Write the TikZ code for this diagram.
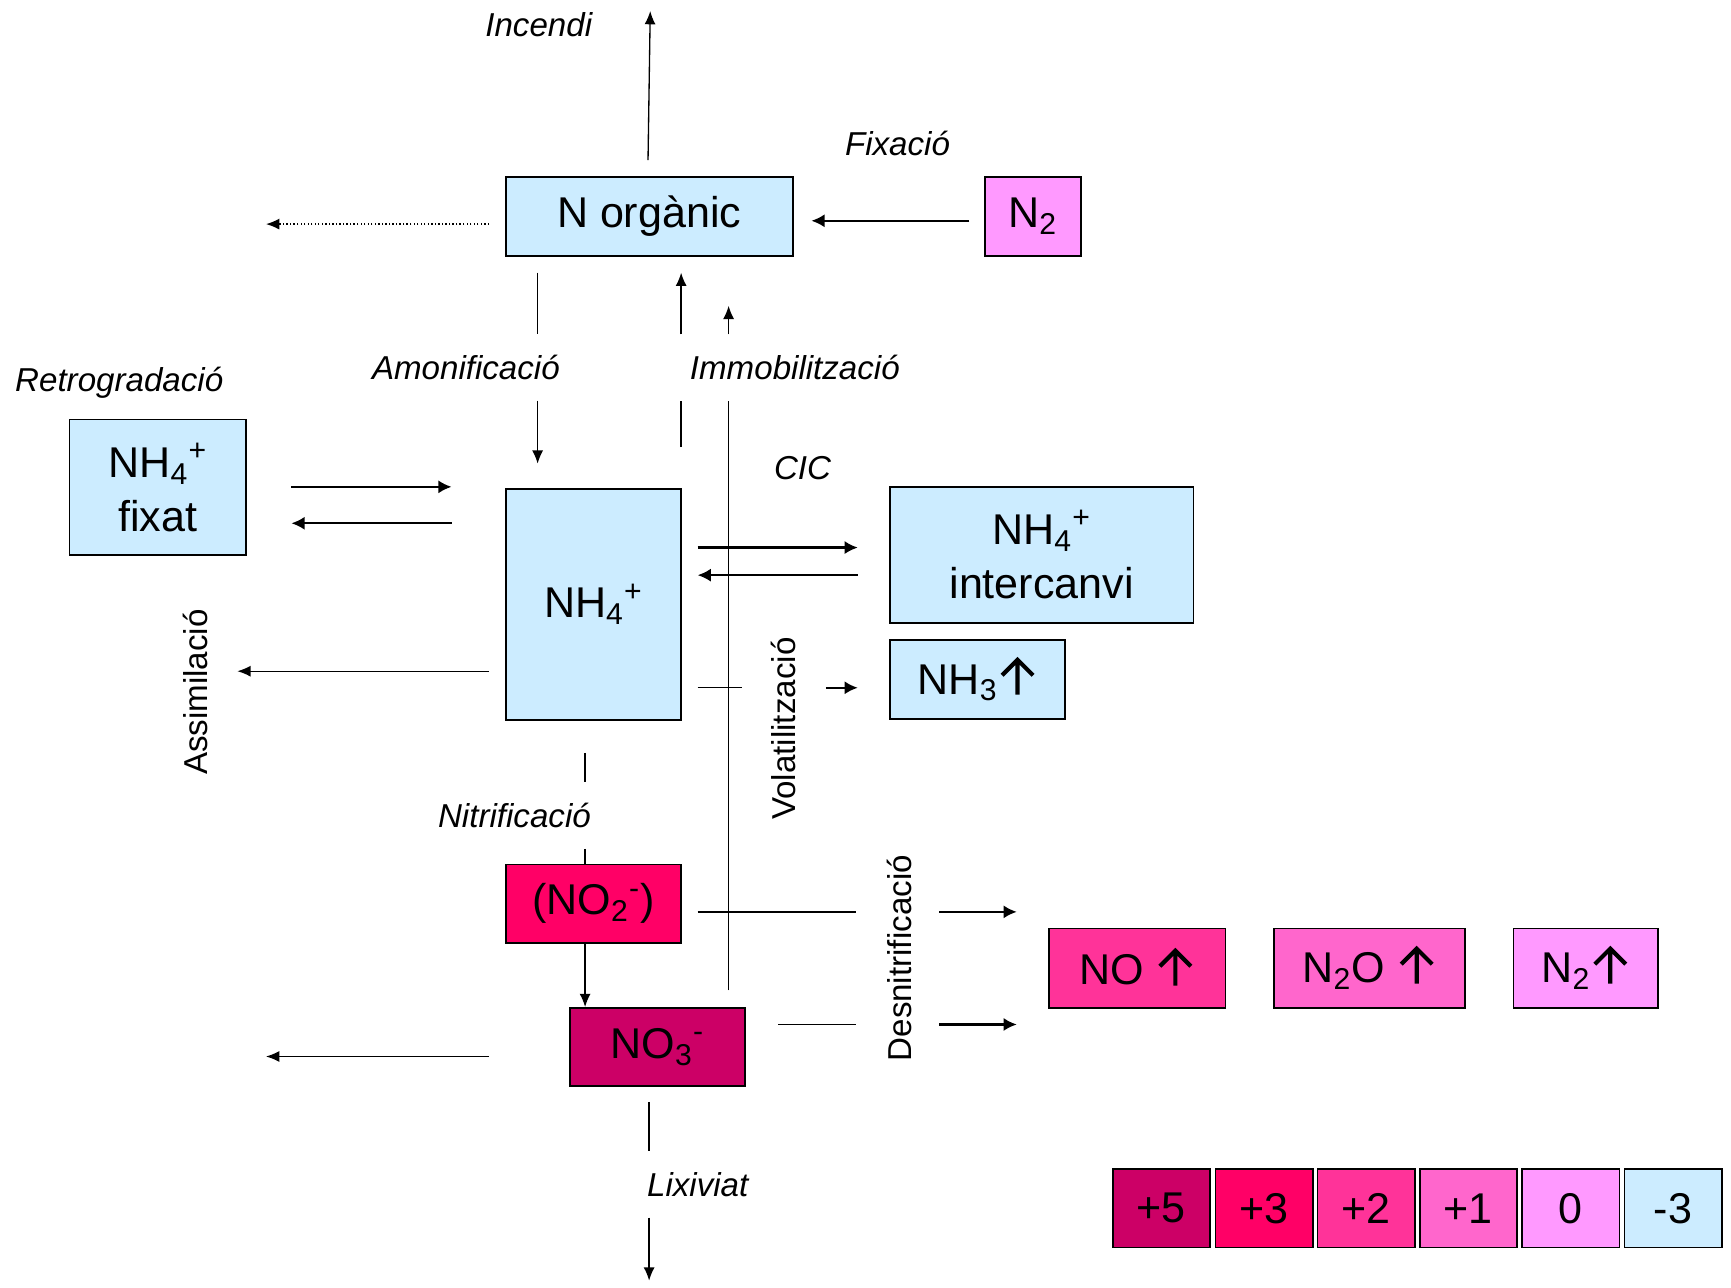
\documentclass[tikz,border=0pt]{standalone}
\usepackage{fontspec}
\setmainfont{Liberation Sans}
\usetikzlibrary{arrows.meta,calc}
\definecolor{lblue}{HTML}{CCECFF}
\definecolor{oxA}{HTML}{CC0066}
\definecolor{oxB}{HTML}{FF0066}
\definecolor{oxC}{HTML}{FF3399}
\definecolor{oxD}{HTML}{FF66CC}
\definecolor{oxE}{HTML}{FF99FF}
\newcommand{\sbsp}[2]{\textsubscript{#1}\textsuperscript{#2}}
% upward arrow marking a gas that escapes
\newcommand{\gasup}{\hspace{1pt}\tikz[baseline=0pt,x=1pt,y=1pt]
  \draw[line width=1.9pt, line join=miter] (0,-0.3)--(0,15.5) (-7,8.5)--(0,15.5)--(7,8.5);\hspace{1pt}}
\begin{document}
\begin{tikzpicture}[x=0.5pt,y=-0.5pt,
  box/.style={draw=black, line width=0.8pt, inner sep=0pt, align=center,
    font=\fontsize{19.5}{24.5}\selectfont},
  lab/.style={font=\fontsize{15}{18}\selectfont\itshape, inner sep=0pt},
  vlab/.style={font=\fontsize{15}{18}\selectfont, rotate=90, inner sep=0pt},
  ln/.style={line width=0.6pt},
  arr/.style={ln, -{Latex[length=6pt,width=5pt]}},
  harr/.style={line width=1pt, -{Latex[length=6pt,width=6pt]}}]
\useasboundingbox (0,0) rectangle (1568,1166);

% compartments
\node[box, fill=lblue, minimum width=130pt, minimum height=36pt] (norg) at (588,196) {N orgànic};
\node[box, fill=oxE, minimum width=43.5pt, minimum height=36pt] (ntop) at (935.5,196) {N\textsubscript{2}};
\node[box, fill=lblue, minimum width=80pt, minimum height=61.5pt] (fix) at (143,441.5) {NH\sbsp{4}{+}\\fixat};
\node[box, fill=lblue, minimum width=79.5pt, minimum height=104.5pt] (amm) at (537.5,547.5) {NH\sbsp{4}{+}};
\node[box, fill=lblue, minimum width=137.5pt, minimum height=61.5pt] (exch) at (943.5,502.5) {NH\sbsp{4}{+}\\intercanvi};
\node[box, fill=lblue, minimum width=79.5pt, minimum height=35.5pt] (nh3) at (885.5,615.5) {NH\textsubscript{3}\gasup};
\node[box, fill=oxB, minimum width=79.5pt, minimum height=35.5pt] (no2) at (537.5,818.5) {(NO\sbsp{2}{-})};
\node[box, fill=oxA, minimum width=79.5pt, minimum height=35.5pt] (no3) at (595.5,948.5) {NO\sbsp{3}{-}};
\node[box, fill=oxC, minimum width=80pt, minimum height=36pt] (nog) at (1030,877) {NO \gasup};
\node[box, fill=oxD, minimum width=86.5pt, minimum height=36pt] (ntwoo) at (1240.5,877) {N\textsubscript{2}O \gasup};
\node[box, fill=oxE, minimum width=65.5pt, minimum height=36pt] (ngas) at (1436.5,877) {N\textsubscript{2}\gasup};

% oxidation state legend
\foreach \cx/\col/\txt [count=\i] in {1052/oxA/+5, 1145/oxB/+3, 1237.5/oxC/+2, 1330/oxD/+1, 1423/oxE/0, 1515.5/lblue/-3}
  \node[box, fill=\col, minimum width=44pt, minimum height=35.5pt] (leg\i) at (\cx,1094.5) {\txt};

% process labels
\node[lab] (tinc) at (488,22) {Incendi};
\node[lab] (tfix) at (813,130) {Fixació};
\node[lab] (tamo) at (422,333) {Amonificació};
\node[lab] (timm) at (720,333) {Immobilització};
\node[lab] (tret) at (108,347) {Retrogradació};
\node[lab] (tcic) at (727,424) {CIC};
\node[lab] (tnit) at (466,739) {Nitrificació};
\node[lab] (tlix) at (632,1073) {Lixiviat};
\node[vlab] (tass) at (177,627) {Assimilació};
\node[vlab] (tvol) at (710,660) {Volatilització};
\node[vlab] (tden) at (815,868) {Desnitrificació};

% connector end points
\coordinate (incA) at (587,145);  \coordinate (incB) at (589,10);
\coordinate (fixA) at (878,200);  \coordinate (fixB) at (735,200);
\coordinate (outA) at (443,203);  \coordinate (outB) at (241,203);
\coordinate (amoA) at (487,247);  \coordinate (amoB) at (487,303);
\coordinate (amoC) at (487,363);  \coordinate (amoD) at (487,420);
\coordinate (imaA) at (617,405);  \coordinate (imaB) at (617,363);
\coordinate (imaC) at (617,303);  \coordinate (imaD) at (617,247);
\coordinate (imbA) at (660,897);  \coordinate (imbB) at (660,363);
\coordinate (imbC) at (660,303);  \coordinate (imbD) at (660,277);
\coordinate (retA) at (264,441);  \coordinate (retB) at (409,441);
\coordinate (retC) at (409,474);  \coordinate (retD) at (264,474);
\coordinate (cicA) at (632,496);  \coordinate (cicB) at (777,496);
\coordinate (cicC) at (777,521);  \coordinate (cicD) at (632,521);
\coordinate (volA) at (632,623);  \coordinate (volB) at (672,623);
\coordinate (volC) at (748,623);  \coordinate (volD) at (777,623);
\coordinate (assA) at (443,608);  \coordinate (assB) at (215,608);
\coordinate (nitA) at (530,682);  \coordinate (nitB) at (530,708);
\coordinate (nitC) at (530,769);
\coordinate (dnaA) at (632,826);  \coordinate (dnaB) at (775,826);
\coordinate (dnaC) at (851,826);  \coordinate (dnaD) at (921,826);
\coordinate (dnbA) at (705,928);  \coordinate (dnbB) at (775,928);
\coordinate (dnbC) at (851,928);  \coordinate (dnbD) at (921,928);
\coordinate (nooA) at (443,957);  \coordinate (nooB) at (241,957);
\coordinate (lixA) at (588,998);  \coordinate (lixB) at (588,1043);
\coordinate (lixC) at (588,1103); \coordinate (lixD) at (588,1160);

% connectors
\draw[arr] (incA) -- (incB);
\draw[harr] (fixA) -- (fixB);
\draw[ln, densely dotted, -{Latex[length=6pt,width=5pt]}] (outA) -- (outB);
\draw[ln] (amoA) -- (amoB);
\draw[arr] (amoC) -- (amoD);
\draw[ln] (imaA) -- (imaB);
\draw[arr] (imaC) -- (imaD);
\draw[ln] (imbA) -- (imbB);
\draw[arr] (imbC) -- (imbD);
\draw[harr] (retA) -- (retB);
\draw[harr] (retC) -- (retD);
\draw[harr] (cicA) -- (cicB);
\draw[harr] (cicC) -- (cicD);
\draw[ln] (volA) -- (volB);
\draw[harr] (volC) -- (volD);
\draw[arr] (assA) -- (assB);
\draw[ln] (nitA) -- (nitB);
\draw[ln] (nitC) -- (no2.north -| nitC);
\draw[arr] (no2.south -| nitC) -- (no3.north -| nitC);
\draw[ln] (dnaA) -- (dnaB);
\draw[harr] (dnaC) -- (dnaD);
\draw[ln] (dnbA) -- (dnbB);
\draw[harr] (dnbC) -- (dnbD);
\draw[arr] (nooA) -- (nooB);
\draw[ln] (lixA) -- (lixB);
\draw[arr] (lixC) -- (lixD);
\end{tikzpicture}
\end{document}
